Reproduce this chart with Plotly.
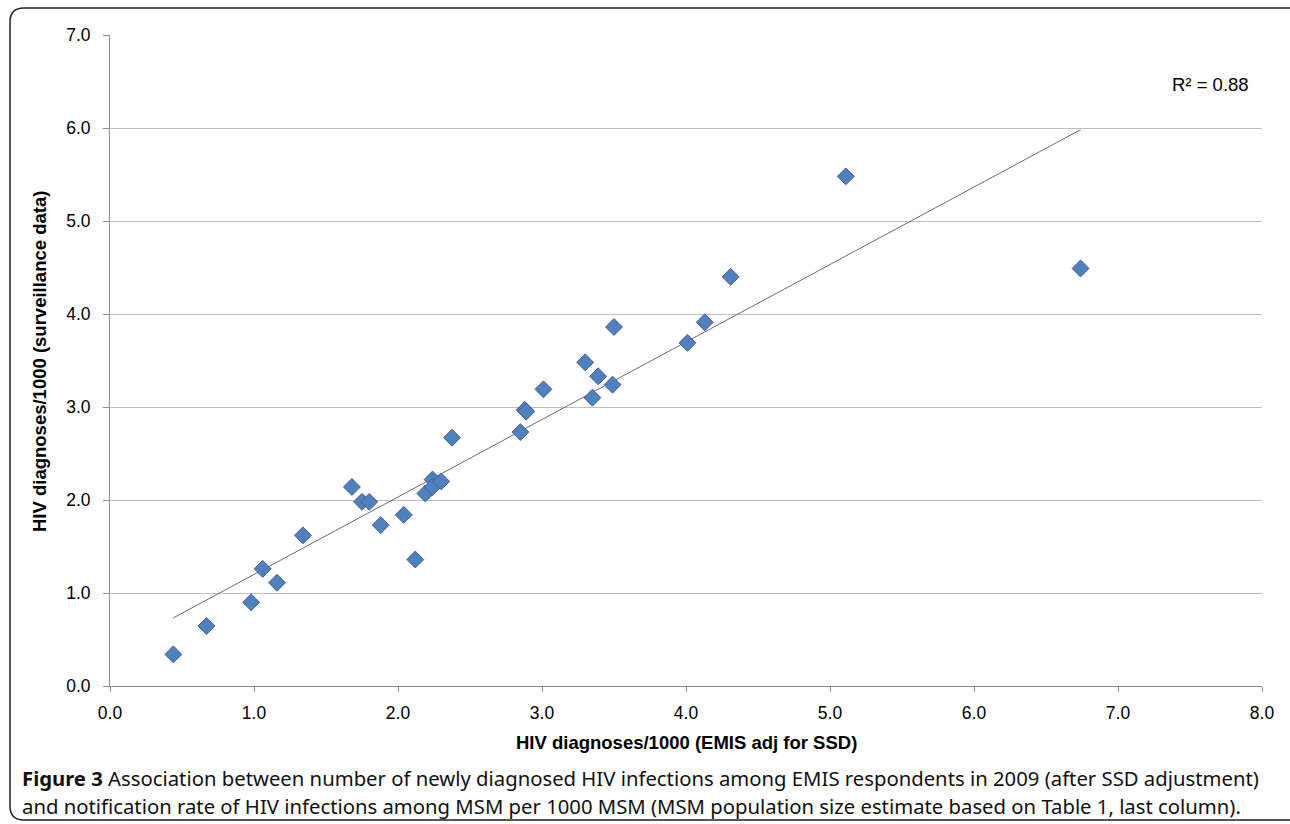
import numpy as np
import plotly.graph_objects as go

# Data
emis_adj = [0.44, 0.67, 0.98, 1.06, 1.16, 1.34, 1.68, 1.75, 1.80, 1.88, 2.04, 2.12,
            2.19, 2.24, 2.24, 2.30, 2.375, 2.85, 2.88, 2.89, 3.01, 3.30, 3.35, 3.39,
            3.49, 3.50, 4.01, 4.13, 4.31, 5.11, 6.74]
surveillance = [0.34, 0.645, 0.90, 1.26, 1.11, 1.62, 2.14, 1.98, 1.98, 1.73, 1.84, 1.36,
                2.07, 2.22, 2.14, 2.20, 2.67, 2.73, 2.97, 2.95, 3.19, 3.48, 3.10, 3.33,
                3.24, 3.86, 3.69, 3.91, 4.40, 5.48, 4.49]
x_ticks = [0, 1, 2, 3, 4, 5, 6, 7, 8]
y_ticks = [0, 1, 2, 3, 4, 5, 6, 7]
r2_label = "R² = 0.88"
x_title = "HIV diagnoses/1000 (EMIS adj for SSD)"
y_title = "HIV diagnoses/1000 (surveillance data)"
caption1 = "<b>Figure 3</b> Association between number of newly diagnosed HIV infections among EMIS respondents in 2009 (after SSD adjustment)"
caption2 = "and notification rate of HIV infections among MSM per 1000 MSM (MSM population size estimate based on Table 1, last column)."

# Linear trend line fitted from data
xa = np.array(emis_adj)
ya = np.array(surveillance)
slope, intercept = np.polyfit(xa, ya, 1)
tx = np.array([xa.min(), xa.max()])
ty = slope * tx + intercept

W, H = 1290, 824
L, R, T, B = 110, 1262, 35, 686

def px(xp):
    return (xp - L) / (R - L)

def py(yp):
    return (B - yp) / (B - T)

fig = go.Figure()
fig.add_trace(go.Scatter(x=tx, y=ty, mode="lines",
                         line=dict(color="#5a5a5a", width=0.9),
                         hoverinfo="skip", showlegend=False))
fig.add_trace(go.Scatter(x=emis_adj, y=surveillance, mode="markers",
                         marker=dict(symbol="diamond", size=13, color="#4F81BD",
                                     line=dict(color="#4A5C9A", width=1)),
                         showlegend=False))

tick_font = dict(family="Liberation Sans, Arial, sans-serif", size=17.5, color="#000")
title_font = dict(family="Liberation Sans, Arial, sans-serif", size=18.5, color="#000")
fig.update_xaxes(range=[0, 8], tickvals=x_ticks, tickformat=".1f",
                 showgrid=False, zeroline=False, showline=True, linecolor="#8c8c8c",
                 linewidth=1, ticks="outside", ticklen=5, tickcolor="#8c8c8c",
                 tickfont=tick_font, ticklabelstandoff=6)
fig.update_yaxes(range=[0, 7], tickvals=y_ticks, tickformat=".1f",
                 showgrid=True, gridcolor="#bfbfbf", gridwidth=1, zeroline=False,
                 showline=True, linecolor="#8c8c8c", linewidth=1,
                 ticks="outside", ticklen=6, tickcolor="#8c8c8c",
                 tickfont=tick_font, ticklabelstandoff=9)

# Rounded frame around the figure
r = 14
x0, x1 = 10, 1310
y0, y1 = 8, 820
path = (f"M {px(x0+r)},{py(y0)} L {px(x1)},{py(y0)} "
        f"M {px(x0+r)},{py(y0)} Q {px(x0)},{py(y0)} {px(x0)},{py(y0+r)} "
        f"L {px(x0)},{py(y1-r)} Q {px(x0)},{py(y1)} {px(x0+r)},{py(y1)} L {px(x1)},{py(y1)}")
fig.add_shape(type="path", path=path, xref="paper", yref="paper",
              line=dict(color="#222", width=1.5), layer="below")

ann = []
ann.append(dict(text=r2_label, x=px(1210), y=py(85), xref="paper", yref="paper",
                showarrow=False, font=title_font, xanchor="center", yanchor="middle"))
ann.append(dict(text=f"<b>{x_title}</b>", x=px(686), y=py(742), xref="paper", yref="paper",
                showarrow=False, font=title_font, xanchor="center", yanchor="middle"))
ann.append(dict(text=f"<b>{y_title}</b>", x=px(40), y=py(362), xref="paper", yref="paper",
                showarrow=False, font=title_font, textangle=-90,
                xanchor="center", yanchor="middle"))
cap_font = dict(family="Noto Sans, Open Sans, sans-serif", size=20.3, color="#111")
ann.append(dict(text=caption1, x=px(20), y=py(778), xref="paper", yref="paper",
                showarrow=False, font=cap_font, xanchor="left", yanchor="middle"))
ann.append(dict(text=caption2, x=px(20), y=py(806), xref="paper", yref="paper",
                showarrow=False, font=cap_font, xanchor="left", yanchor="middle"))

fig.update_layout(width=W, height=H, margin=dict(l=L, r=W - R, t=T, b=H - B),
                  plot_bgcolor="white", paper_bgcolor="white",
                  annotations=ann, showlegend=False)

fig.write_html("out.html", config={"displayModeBar": False},
               post_script="document.body.style.margin='0';document.body.style.overflow='hidden';")
